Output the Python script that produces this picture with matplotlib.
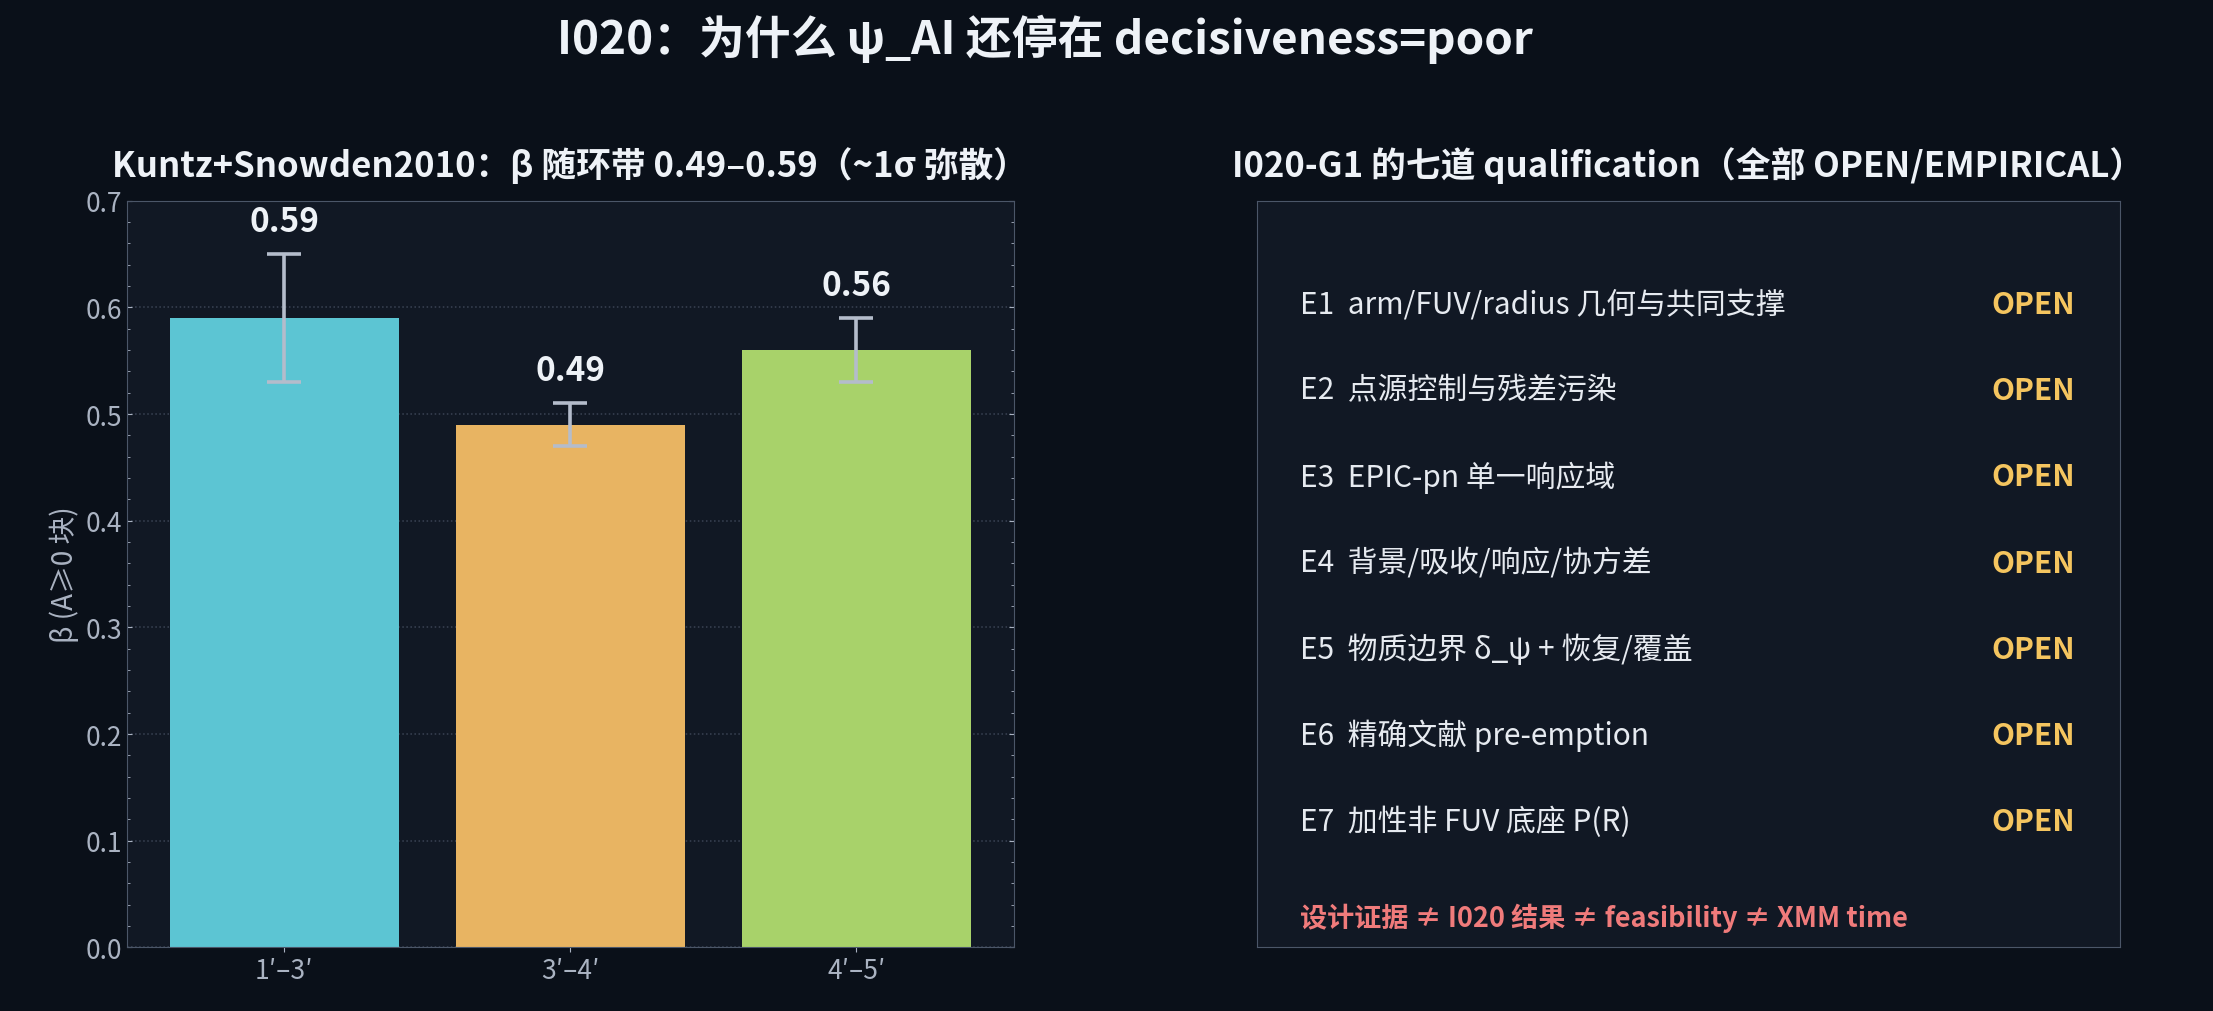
import matplotlib
matplotlib.use("Agg")
import matplotlib.pyplot as plt
from matplotlib.ticker import MultipleLocator

plt.rcParams['font.family'] = ['Noto Sans CJK SC', 'DejaVu Sans']

bands = ["1′–3′", "3′–4′", "4′–5′"]
beta = [0.59, 0.49, 0.56]
err_lo = [0.06, 0.02, 0.03]
err_hi = [0.06, 0.02, 0.03]
colors = ["#5cc5d3", "#e8b462", "#a8d26a"]

items = ["E1  arm/FUV/radius 几何与共同支撑", "E2  点源控制与残差污染", "E3  EPIC-pn 单一响应域",
         "E4  背景/吸收/响应/协方差", "E5  物质边界 δ_ψ + 恢复/覆盖", "E6  精确文献 pre-emption",
         "E7  加性非 FUV 底座 P(R)"]
status = ["OPEN"] * 7

BG = "#0a1019"
AX = "#111824"
fig = plt.figure(figsize=(22.13, 10.12), dpi=100, facecolor=BG)
fig.text(0.472, 0.961, "I020：为什么 ψ_AI 还停在 decisiveness=poor", ha="center", va="center",
         color="#eef2f7", fontsize=33, fontweight="bold")

ax = fig.add_axes([0.0574, 0.0628, 0.4006, 0.7378], facecolor=AX)
x = range(len(bands))
ax.bar(x, beta, width=0.8, color=colors, zorder=2)
ax.errorbar(x, beta, yerr=[err_lo, err_hi], fmt="none", ecolor="#b4bccb", elinewidth=2.6,
            capsize=12, capthick=2.6, zorder=3)
for i, v in enumerate(beta):
    ax.text(i, v + err_hi[i] + 0.015, f"{v:.2f}", ha="center", va="bottom", color="#eef2f7",
            fontsize=24, fontweight="bold")
ax.set_xlim(-0.55, 2.55)
ax.set_ylim(0, 0.7)
ax.set_xticks(list(x))
ax.set_xticklabels(bands)
ax.yaxis.set_major_locator(MultipleLocator(0.1))
ax.yaxis.set_minor_locator(MultipleLocator(0.02))
ax.tick_params(colors="#aab3c2", labelsize=19, which="both", right=True, top=True, direction="in")
ax.tick_params(axis="x", which="both", top=False, direction="out")
ax.grid(axis="y", color="#3a4354", linestyle=":", linewidth=1.1, zorder=0)
for s in ax.spines.values():
    s.set_color("#4b5668")
ax.set_ylabel("β (A≥0 块)", color="#aab3c2", fontsize=20)
ax.set_title("Kuntz+Snowden2010：β 随环带 0.49–0.59（~1σ 弥散）", color="#eef2f7", fontsize=25,
             fontweight="bold", pad=18)

ax2 = fig.add_axes([0.568, 0.0628, 0.39, 0.7378], facecolor=AX)
ax2.set_xlim(0, 1); ax2.set_ylim(0, 1)
ax2.set_xticks([]); ax2.set_yticks([])
for s in ax2.spines.values():
    s.set_color("#4b5668")
ax2.set_title("I020-G1 的七道 qualification（全部 OPEN/EMPIRICAL）", color="#eef2f7", fontsize=25,
              fontweight="bold", pad=18)
for i, (t, st) in enumerate(zip(items, status)):
    yy = 0.862 - i * 0.1155
    ax2.text(0.05, yy, t, color="#e6eaf0", fontsize=21.5, va="center")
    ax2.text(0.948, yy, st, color="#f5c55f", fontsize=21.5, fontweight="bold", va="center", ha="right")
ax2.text(0.05, 0.04, "设计证据 ≠ I020 结果 ≠ feasibility ≠ XMM time", color="#f07b7b",
         fontsize=19.5, fontweight="bold", va="center")

fig.savefig("out.png", dpi=100, facecolor=BG)
